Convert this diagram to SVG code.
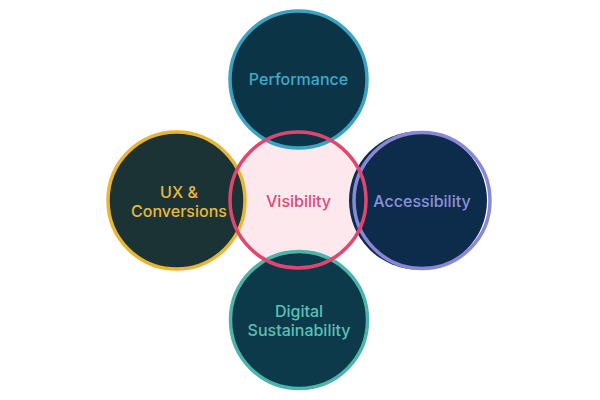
<svg xmlns="http://www.w3.org/2000/svg" width="600" height="400" viewBox="0 0 600 400">
<style>
text{font-family:Inter,"Noto Sans","Liberation Sans",sans-serif;font-size:16px;font-weight:500;text-anchor:middle}
.ring{stroke-width:3.5}
</style>
<rect width="600" height="400" fill="#ffffff"/>
<g id="visibility-fill"><circle cx="298" cy="200" r="68" fill="#fde8ee"/></g>
<g id="performance">
<circle class="ring" cx="298.5" cy="79.5" r="68.5" fill="#0c3447" stroke="#3aa3c2"/>
<text x="298.5" y="85" fill="#40aacb">Performance</text>
</g>
<g id="ux">
<circle class="ring" cx="176.5" cy="200.5" r="68.5" fill="#1c3336" stroke="#e8b534"/>
<text x="179" y="198" fill="#eab93b">UX &amp;</text>
<text x="179" y="217" fill="#eab93b">Conversions</text>
</g>
<g id="accessibility">
<circle cx="418" cy="200.5" r="69" fill="#0d2c4b"/>
<circle class="ring" cx="422" cy="200.5" r="68" fill="none" stroke="#8b87d8"/>
<text x="422" y="207" fill="#8d90da">Accessibility</text>
</g>
<g id="digital-sustainability">
<circle class="ring" cx="299" cy="320" r="68.5" fill="#0c3a4a" stroke="#4cb4aa"/>
<text x="299" y="317" fill="#5cc0b8">Digital</text>
<text x="299" y="336" fill="#5cc0b8">Sustainability</text>
</g>
<g id="visibility">
<circle cx="298" cy="200" r="68" fill="none" stroke="#e0466f" stroke-width="3.5"/>
<text x="298.5" y="207" fill="#dc4a75" font-weight="600">Visibility</text>
</g>
</svg>
